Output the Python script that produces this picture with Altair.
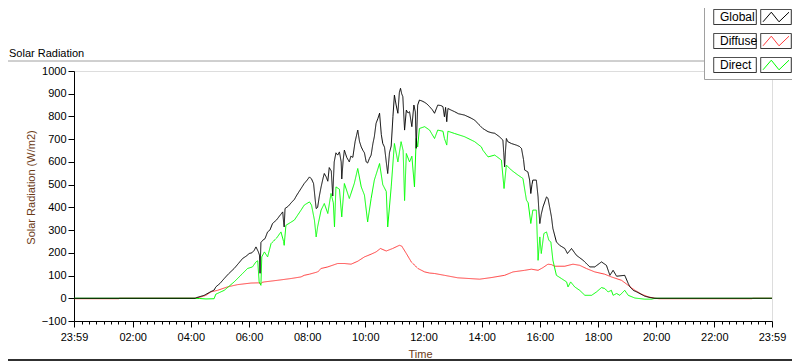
import altair as alt
import pandas as pd

FONT = "Liberation Sans"
BROWN = "#6b3a16"

# (time in hours since midnight, W/m2)
global_pts = [
    (-0.017, 0), (4.15, 0), (4.20, 3), (4.46, 13), (4.70, 30), (4.80, 36), (4.86, 50), (5.00, 65),
    (5.15, 87), (5.30, 108), (5.49, 131), (5.65, 155), (5.78, 175), (5.90, 185), (6.01, 197),
    (6.10, 200), (6.18, 211), (6.24, 226), (6.32, 205), (6.36, 190), (6.38, 110), (6.41, 245),
    (6.47, 255), (6.55, 262), (6.64, 292), (6.72, 300), (6.81, 329), (6.95, 345), (7.05, 362),
    (7.16, 380), (7.19, 335), (7.21, 314), (7.24, 395), (7.35, 405), (7.45, 420), (7.56, 435),
    (7.65, 455), (7.79, 483), (7.90, 505), (8.00, 520), (8.08, 534), (8.15, 525), (8.22, 505),
    (8.28, 430), (8.31, 395), (8.36, 400), (8.42, 450), (8.48, 490), (8.55, 530), (8.59, 549),
    (8.65, 535), (8.71, 515), (8.76, 575), (8.83, 560), (8.88, 450), (8.93, 600), (8.99, 640),
    (9.05, 630), (9.11, 644), (9.17, 600), (9.19, 525), (9.24, 610), (9.28, 652), (9.36, 620),
    (9.45, 600), (9.50, 625), (9.57, 620), (9.65, 690), (9.74, 740), (9.80, 690), (9.86, 666),
    (9.92, 650), (9.97, 640), (10.03, 600), (10.08, 595), (10.14, 615), (10.20, 630), (10.26, 680),
    (10.31, 711), (10.37, 770), (10.43, 790), (10.49, 814), (10.55, 720), (10.60, 681), (10.66, 665),
    (10.72, 600), (10.77, 549), (10.83, 640), (10.89, 670), (10.95, 800), (11.00, 894), (11.06, 850),
    (11.12, 814), (11.17, 905), (11.21, 924), (11.25, 900), (11.29, 887), (11.35, 740), (11.41, 828),
    (11.47, 815), (11.52, 821), (11.60, 755), (11.67, 850), (11.72, 820), (11.75, 660), (11.80, 850),
    (11.86, 872), (11.95, 868), (12.04, 862), (12.12, 855), (12.21, 843), (12.30, 830), (12.38, 814),
    (12.49, 850), (12.60, 848), (12.67, 843), (12.72, 799), (12.76, 840), (12.80, 777), (12.84, 835),
    (12.95, 828), (13.07, 821), (13.20, 812), (13.41, 806), (13.60, 795), (13.76, 784), (13.90, 765),
    (14.04, 747), (14.22, 733), (14.35, 728), (14.45, 726), (14.60, 712), (14.73, 696), (14.76, 640),
    (14.79, 578), (14.82, 650), (14.85, 703), (14.90, 689), (15.02, 681), (15.19, 674), (15.30, 668),
    (15.37, 659), (15.44, 610), (15.48, 564), (15.59, 556), (15.65, 520), (15.69, 461), (15.73, 500),
    (15.76, 520), (15.88, 520), (15.94, 446), (15.97, 380), (16.00, 329), (16.05, 370), (16.11, 402),
    (16.23, 446), (16.28, 440), (16.34, 400), (16.40, 358), (16.45, 307), (16.57, 248), (16.68, 233),
    (16.86, 219), (16.95, 197), (17.09, 219), (17.26, 189), (17.49, 167), (17.72, 138), (17.89, 138),
    (18.12, 160), (18.29, 145), (18.41, 101), (18.52, 123), (18.64, 97), (18.92, 101), (19.04, 65),
    (19.10, 50), (19.21, 35), (19.33, 28), (19.45, 20), (19.61, 9), (19.80, 3), (19.96, 0),
    (23.983, 0),
]

diffuse_pts = [
    (-0.017, -2), (1.53, -2), (1.55, 0), (4.15, 0), (4.35, 6), (4.52, 13), (4.69, 28), (4.92, 35),
    (5.26, 50), (5.61, 60), (6.07, 67), (6.36, 68), (6.39, 62), (6.45, 70), (6.53, 72), (6.98, 79),
    (7.45, 87), (7.79, 94), (7.90, 101), (8.08, 106), (8.36, 116), (8.48, 131), (8.71, 138),
    (9.05, 153), (9.28, 153), (9.51, 150), (9.74, 163), (9.97, 182), (10.20, 194), (10.37, 204),
    (10.52, 219), (10.72, 208), (10.94, 219), (11.17, 233), (11.25, 230), (11.41, 197), (11.58, 160),
    (11.81, 131), (12.04, 116), (12.21, 111), (12.38, 109), (12.72, 101), (13.18, 90), (13.93, 84),
    (14.33, 91), (14.79, 101), (15.08, 116), (15.48, 123), (15.71, 128), (15.94, 123), (16.11, 135),
    (16.28, 150), (16.40, 148), (16.51, 141), (16.86, 141), (17.14, 150), (17.37, 145), (17.60, 131),
    (17.89, 116), (18.23, 106), (18.46, 94), (18.81, 79), (19.04, 57), (19.27, 35), (19.50, 18),
    (19.73, 6), (19.96, 0), (20.10, -2), (23.30, -2), (23.32, 0), (23.983, 0),
]

direct_pts = [
    (-0.017, 0), (4.15, 0), (4.30, -1), (4.52, -3), (4.80, -2), (4.86, 18), (5.15, 35), (5.49, 72),
    (5.78, 109), (5.95, 131), (6.12, 138), (6.24, 160), (6.30, 165), (6.35, 72), (6.41, 57),
    (6.44, 182), (6.53, 204), (6.64, 182), (6.76, 241), (6.95, 265), (7.10, 292), (7.19, 250),
    (7.21, 233), (7.27, 321), (7.56, 344), (7.79, 388), (7.90, 410), (8.08, 424), (8.15, 410),
    (8.25, 344), (8.31, 270), (8.36, 314), (8.48, 388), (8.59, 417), (8.71, 373), (8.82, 461),
    (8.90, 420), (8.94, 314), (8.99, 490), (9.11, 480), (9.19, 358), (9.28, 505), (9.45, 439),
    (9.62, 505), (9.74, 571), (9.86, 490), (9.97, 454), (10.08, 336), (10.20, 439), (10.31, 520),
    (10.49, 593), (10.60, 500), (10.72, 470), (10.77, 314), (10.89, 490), (11.00, 681), (11.12, 600),
    (11.23, 689), (11.30, 650), (11.35, 430), (11.41, 637), (11.52, 600), (11.60, 625), (11.69, 490),
    (11.75, 703), (11.80, 666), (11.86, 747), (12.04, 755), (12.21, 740), (12.38, 703), (12.49, 740),
    (12.67, 735), (12.72, 703), (12.80, 674), (12.84, 735), (13.07, 725), (13.41, 711), (13.76, 689),
    (13.99, 666), (14.04, 652), (14.22, 622), (14.45, 630), (14.68, 608), (14.77, 483), (14.85, 586),
    (15.02, 564), (15.25, 542), (15.42, 527), (15.54, 432), (15.60, 420), (15.69, 329), (15.76, 388),
    (15.88, 388), (15.94, 167), (16.00, 270), (16.05, 197), (16.14, 285), (16.23, 292), (16.31, 255),
    (16.38, 248), (16.45, 167), (16.57, 101), (16.74, 87), (16.92, 72), (16.97, 50), (17.06, 72),
    (17.20, 50), (17.37, 35), (17.55, 13), (17.78, 13), (17.95, 28), (18.12, 47), (18.23, 43),
    (18.35, 28), (18.46, 35), (18.52, 13), (18.64, 21), (18.75, 13), (18.92, 35), (19.04, 13),
    (19.27, 1), (19.61, -4), (19.84, -4), (19.96, 0), (23.983, 0),
]

SERIES = ["Global", "Diffuse", "Direct"]
SERIES_KEYS = ["1Global", "2Diffuse", "3Direct"]
COLORS = ["#000000", "#ff3d3d", "#00ff00"]
Y_TICKS = list(range(-100, 1001, 100))

rows = []
for name, key, pts in zip(SERIES, SERIES_KEYS, [global_pts, diffuse_pts, direct_pts]):
    for t, v in pts:
        rows.append({"series": name, "key": key, "t": t, "v": v})
df = pd.DataFrame(rows)

T0 = -1 / 60
T1 = 24 - 1 / 60
x_ticks = [T0] + [k / 4 for k in range(1, 96)] + [T1]

major_test = "datum.value < 0 || datum.value > 23.9 || abs(datum.value/2 - round(datum.value/2)) < 0.001"
label_expr = (
    "datum.value < 0 || datum.value > 23.9 ? '23:59' : "
    "(abs(datum.value/2 - round(datum.value/2)) < 0.001 ? "
    "(datum.value < 10 ? '0' : '') + format(datum.value, 'd') + ':00' : '')"
)

x_enc = alt.X(
    "t:Q",
    scale=alt.Scale(domain=[T0, T1], nice=False, zero=False),
    axis=alt.Axis(
        values=x_ticks,
        labelExpr=label_expr,
        labelOverlap=False,
        labelFlush=False,
        tickSize={"condition": {"test": major_test, "value": 6}, "value": 3},
        tickColor="black",
        domainColor="black",
        labelColor="black",
        labelFont=FONT,
        labelFontSize=11,
        labelPadding=4,
        grid=False,
        title="Time",
        titleFont=FONT,
        titleFontSize=11,
        titleFontWeight="normal",
        titleColor=BROWN,
        titleX=346,
        titleY=36,
        titleBaseline="alphabetic",
        titleAlign="center",
    ),
)

y_enc = alt.Y(
    "v:Q",
    scale=alt.Scale(domain=[-100, 1000], nice=False, zero=False),
    axis=alt.Axis(
        values=Y_TICKS,
        format="d",
        tickSize=6,
        tickColor="black",
        domainColor="black",
        labelColor="black",
        labelFont=FONT,
        labelFontSize=11,
        labelPadding=2,
        grid=False,
        title="Solar Radiation (W/m2)",
        titleFont=FONT,
        titleFontSize=11,
        titleFontWeight="normal",
        titleColor=BROWN,
        titleAngle=270,
        titleX=-43,
        titleY=116,
        titleBaseline="middle",
        titleAlign="center",
    ),
)

# legend: label boxes + symbol boxes drawn by one legend, coloured zigzags by another
BOX_PATH = "M-0.15,-3.75H21.15V3.75H-0.15Z M23.35,-3.75H38.65V3.75H23.35Z"
ZIG_PATH = "M-0.15,-3.75M38.65,3.75M24.5,2.4L28.65,-2.4L32.5,2.4L37.5,-2.4"
LEG_X = 630
LEG_Y = -64

color_enc = alt.Color(
    "series:N",
    scale=alt.Scale(domain=SERIES, range=COLORS),
    legend=alt.Legend(
        title=None,
        orient="none",
        legendX=LEG_X,
        legendY=LEG_Y,
        symbolType=ZIG_PATH,
        symbolSize=16,
        symbolStrokeWidth=1,
        symbolFillColor="transparent",
        labelExpr="substring(datum.label, 0, 0)",
        labelFont=FONT,
        labelFontSize=12,
        rowPadding=4,
        padding=4,
        zindex=2,
    ),
)

dash_enc = alt.StrokeDash(
    "key:N",
    scale=alt.Scale(domain=SERIES_KEYS, range=[[1, 0], [1, 0], [1, 0]]),
    legend=alt.Legend(
        title=None,
        orient="none",
        legendX=LEG_X,
        legendY=LEG_Y,
        symbolType=BOX_PATH,
        symbolSize=16,
        symbolStrokeWidth=1,
        symbolStrokeColor="#202020",
        symbolFillColor="transparent",
        labelExpr="substring(datum.label, 1)",
        labelFont=FONT,
        labelFontSize=12,
        labelColor="black",
        labelOffset=0,
        rowPadding=4,
        padding=4,
        fillColor="white",
        strokeColor="#a0a0a0",
        zindex=1,
    ),
)

base = alt.Chart(df)
layers = []
for name in ["Diffuse", "Direct", "Global"]:
    layers.append(
        base.transform_filter(alt.datum.series == name)
        .mark_line(strokeWidth=1, clip=True)
        .encode(x=x_enc, y=y_enc, color=color_enc, strokeDash=dash_enc)
    )

frame_df = pd.DataFrame({"k": [0]})
top_line = alt.Chart(frame_df).mark_rule(color="#a0a0a0", strokeWidth=1).encode(
    x=alt.value(-66), x2=alt.value(635), y=alt.value(-10)
)
bottom_line = alt.Chart(frame_df).mark_rule(color="#303030", strokeWidth=2).encode(
    x=alt.value(-66), x2=alt.value(718), y=alt.value(289)
)
title_text = alt.Chart(frame_df).mark_text(
    align="left", baseline="alphabetic", font=FONT, fontSize=11, color="black"
).encode(x=alt.value(-65), y=alt.value(-14.5), text=alt.value("Solar Radiation"))

chart = (
    alt.layer(top_line, bottom_line, title_text, *layers)
    .properties(
        width=698,
        height=250,
        autosize=alt.AutoSizeParams(type="none"),
        padding={"left": 66, "top": 63, "right": 20, "bottom": 40},
    )
    .configure_view(stroke="black", strokeWidth=1)
    .configure(background="white")
)

chart.save("out.html", embed_options={"renderer": "svg", "actions": False})
